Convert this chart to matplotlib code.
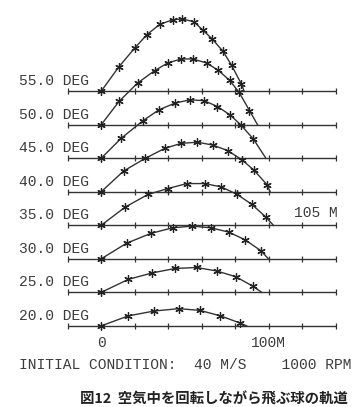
import matplotlib
matplotlib.use("Agg")
import matplotlib.pyplot as plt

# ---- data (metres) ----
angles = [55, 50, 45, 40, 35, 30, 25, 20]
angle_labels = ["55.0 DEG", "50.0 DEG", "45.0 DEG", "40.0 DEG",
                "35.0 DEG", "30.0 DEG", "25.0 DEG", "20.0 DEG"]

x55 = [0, 10.5, 20.0, 27.5, 35.0, 42.7, 48.6, 55.4, 60.6, 66.5, 72.8, 78.0, 83.8]
h55 = [0, 14.5, 25.8, 34.0, 40.0, 42.8, 43.3, 41.6, 36.8, 31.2, 24.0, 15.5, 4.4]
x50 = [0, 10.7, 21.8, 32.0, 39.8, 47.8, 54.8, 63.0, 70.0, 76.8, 82.4, 88.6]
h50 = [0, 14.0, 25.0, 32.4, 37.0, 39.4, 39.4, 37.0, 32.6, 26.6, 19.5, 8.6]
x45 = [0, 12.0, 25.0, 34.5, 44.0, 53.0, 61.5, 69.5, 77.0, 83.5, 91.0]
h45 = [0, 12.0, 22.5, 29.0, 33.0, 35.0, 34.5, 31.0, 26.0, 20.0, 11.5]
x40 = [0, 13.5, 26.3, 38.0, 47.8, 57.5, 66.7, 75.6, 84.0, 91.4, 99.0]
h40 = [0, 12.5, 20.0, 26.0, 29.0, 29.7, 28.0, 24.7, 19.3, 12.9, 4.4]
x35 = [0, 14.5, 28.0, 39.8, 51.2, 61.9, 71.8, 81.3, 90.0, 98.3]
h35 = [0, 11.0, 18.5, 22.0, 25.0, 25.0, 23.0, 18.5, 12.6, 5.1]
x30 = [0, 15.3, 29.6, 42.8, 54.5, 65.5, 76.3, 86.0, 95.3]
h30 = [0, 9.4, 15.2, 18.6, 19.6, 18.6, 16.0, 11.4, 5.0]
x25 = [0, 16.3, 30.7, 44.2, 57.1, 69.1, 80.4, 90.5]
h25 = [0, 7.8, 11.7, 14.3, 14.9, 12.8, 9.4, 3.8]
x20 = [0, 16.3, 31.7, 46.3, 59.0, 71.3, 82.8]
h20 = [0, 6.0, 8.9, 10.3, 9.3, 6.0, 1.8]

landing = [85.5, 93.5, 98.5, 101.0, 103.0, 100.0, 96.0, 87.0]
axis_ticks = [-20, 0, 20, 40, 60, 80, 100, 120, 140]
xtick_labels = {0: "0", 100: "100M"}
range_note = "105 M"
caption_en = "INITIAL CONDITION:  40 M/S    1000 RPM"
caption_jp = "図12  空気中を回転しながら飛ぶ球の軌道"

xs = [x55, x50, x45, x40, x35, x30, x25, x20]
hs = [h55, h50, h45, h40, h35, h30, h25, h20]

# ---- drawing ----
ink = "#333333"
txt_ink = "#3c3c3c"
fig = plt.figure(figsize=(3.55, 4.07), dpi=100)
fig.patch.set_facecolor("white")
ax = fig.add_axes([0, 0, 1, 1])
ax.set_xlim(-60.3, 151.6)
ax.set_ylim(-48.4, 194.6)
ax.axis("off")

row_gap = 20.0
n = len(angles)
mono = "Liberation Mono"
fs = 10.5
for i, (lab, x, h, land) in enumerate(zip(angle_labels, xs, hs, landing)):
    base = (n - 1 - i) * row_gap
    # baseline with tick marks
    ax.plot([axis_ticks[0], axis_ticks[-1]], [base, base], color=ink, lw=1.0,
            solid_capstyle="butt", zorder=1)
    ax.plot(axis_ticks, [base] * len(axis_ticks), ls="none", marker="|",
            ms=4.5, mew=0.9, color=ink, zorder=1)
    # trajectory
    lx = list(x) + [land]
    ly = [base + v for v in h] + [base]
    ax.plot(lx, ly, color=ink, lw=1.0, zorder=2)
    ax.plot(x, [base + v for v in h], ls="none", marker=(6, 2, 0), ms=6,
            mew=0.9, color="#222222", zorder=3)
    ax.text(-28, base + 6.1, lab, ha="center", va="center", fontsize=fs,
            family=mono, color=txt_ink)
    if angles[i] == 35:
        ax.text(141.5, base + 7.5, range_note, ha="right", va="center",
                fontsize=fs, family=mono, color=txt_ink)

for pos, txt in xtick_labels.items():
    ax.text(pos, -10.1, txt, ha="center", va="center", fontsize=fs,
            family=mono, color=txt_ink)

ax.text(50.4, -23.3, caption_en, ha="center", va="center", fontsize=fs,
        family=mono, color=txt_ink)
ax.text(67.5, -44.2, caption_jp, ha="center", va="center", fontsize=10.4,
        family=["Noto Sans CJK JP", "DejaVu Sans"], fontweight="bold",
        color="#222222")

fig.savefig("out.png", dpi=100, facecolor="white")
